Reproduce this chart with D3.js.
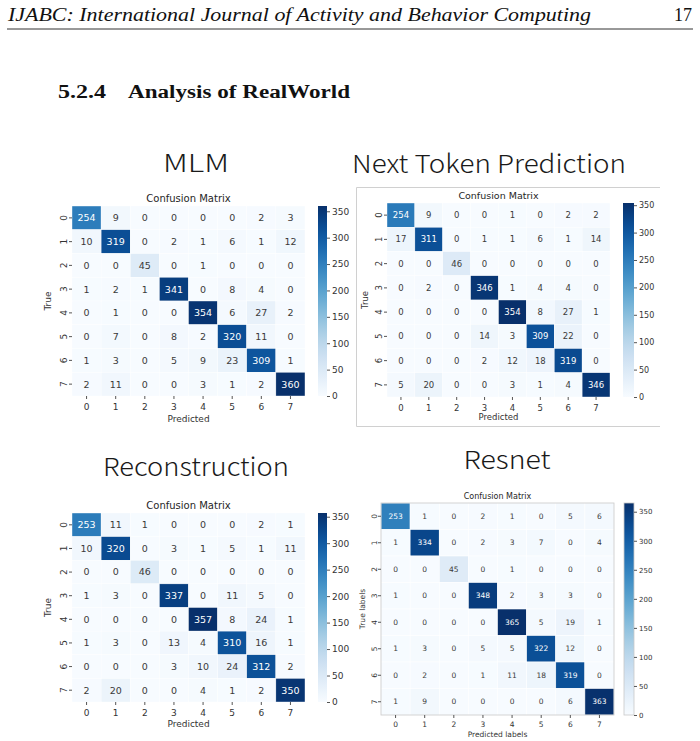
<!DOCTYPE html>
<html>
<head>
<meta charset="utf-8">
<script src="https://cdn.jsdelivr.net/npm/d3@7"></script>
<style>
  body { margin: 0; background: #fff; }
  svg { display: block; }
</style>
</head>
<body>
<svg id="page" width="700" height="741"></svg>
<script>
// class labels shared by every matrix
const classLabels = ["0", "1", "2", "3", "4", "5", "6", "7"];
const colorbarTicks = [0, 50, 100, 150, 200, 250, 300, 350];

// rows = true class, columns = predicted class
const mlmMatrix = [
  [254, 9, 0, 0, 0, 0, 2, 3],
  [10, 319, 0, 2, 1, 6, 1, 12],
  [0, 0, 45, 0, 1, 0, 0, 0],
  [1, 2, 1, 341, 0, 8, 4, 0],
  [0, 1, 0, 0, 354, 6, 27, 2],
  [0, 7, 0, 8, 2, 320, 11, 0],
  [1, 3, 0, 5, 9, 23, 309, 1],
  [2, 11, 0, 0, 3, 1, 2, 360]
];
const ntpMatrix = [
  [254, 9, 0, 0, 1, 0, 2, 2],
  [17, 311, 0, 1, 1, 6, 1, 14],
  [0, 0, 46, 0, 0, 0, 0, 0],
  [0, 2, 0, 346, 1, 4, 4, 0],
  [0, 0, 0, 0, 354, 8, 27, 1],
  [0, 0, 0, 14, 3, 309, 22, 0],
  [0, 0, 0, 2, 12, 18, 319, 0],
  [5, 20, 0, 0, 3, 1, 4, 346]
];
const reconMatrix = [
  [253, 11, 1, 0, 0, 0, 2, 1],
  [10, 320, 0, 3, 1, 5, 1, 11],
  [0, 0, 46, 0, 0, 0, 0, 0],
  [1, 3, 0, 337, 0, 11, 5, 0],
  [0, 0, 0, 0, 357, 8, 24, 1],
  [1, 3, 0, 13, 4, 310, 16, 1],
  [0, 0, 0, 3, 10, 24, 312, 2],
  [2, 20, 0, 0, 4, 1, 2, 350]
];
const resnetMatrix = [
  [253, 1, 0, 2, 1, 0, 5, 6],
  [1, 334, 0, 2, 3, 7, 0, 4],
  [0, 0, 45, 0, 1, 0, 0, 0],
  [1, 0, 0, 348, 2, 3, 3, 0],
  [0, 0, 0, 0, 365, 5, 19, 1],
  [1, 3, 0, 5, 5, 322, 12, 0],
  [0, 2, 0, 1, 11, 18, 319, 0],
  [1, 9, 0, 0, 0, 0, 6, 363]
];

const svg = d3.select("#page");
const mplFont = "'DejaVu Sans', sans-serif";
const serif = "'Liberation Serif', 'DejaVu Serif', serif";

// page header
svg.append("text")
  .attr("x", 8).attr("y", 21)
  .attr("font-family", serif)
  .attr("font-style", "italic")
  .attr("font-size", 18)
  .attr("textLength", 583)
  .attr("lengthAdjust", "spacingAndGlyphs")
  .attr("fill", "#111")
  .text("IJABC: International Journal of Activity and Behavior Computing");
svg.append("text")
  .attr("x", 692).attr("y", 21)
  .attr("text-anchor", "end")
  .attr("font-family", serif)
  .attr("font-size", 18)
  .attr("fill", "#111")
  .text("17");
svg.append("line")
  .attr("x1", 7).attr("x2", 693)
  .attr("y1", 29).attr("y2", 29)
  .attr("stroke", "#333").attr("stroke-width", 1);

// section heading
svg.append("text")
  .attr("x", 58).attr("y", 98)
  .attr("font-family", serif)
  .attr("font-weight", "bold")
  .attr("font-size", 18)
  .attr("textLength", 48)
  .attr("lengthAdjust", "spacingAndGlyphs")
  .attr("fill", "#111")
  .text("5.2.4");
svg.append("text")
  .attr("x", 128).attr("y", 98)
  .attr("font-family", serif)
  .attr("font-weight", "bold")
  .attr("font-size", 18)
  .attr("textLength", 222)
  .attr("lengthAdjust", "spacingAndGlyphs")
  .attr("fill", "#111")
  .text("Analysis of RealWorld");

// big panel titles
const bigTitles = [
  { text: "MLM", x: 196, y: 172, len: 66 },
  { text: "Next Token Prediction", x: 489, y: 173, len: 274 },
  { text: "Reconstruction", x: 196, y: 476, len: 186 },
  { text: "Resnet", x: 507, y: 469, len: 87 }
];
svg.selectAll(".bigTitle")
  .data(bigTitles)
  .enter()
  .append("text")
  .attr("class", "bigTitle")
  .attr("x", d => d.x)
  .attr("y", d => d.y)
  .attr("text-anchor", "middle")
  .attr("font-family", "'Noto Sans CJK JP', 'Noto Sans', sans-serif")
  .attr("font-weight", 300)
  .attr("font-size", 25)
  .attr("textLength", d => d.len)
  .attr("lengthAdjust", "spacingAndGlyphs")
  .attr("fill", "#1a1a1a")
  .text(d => d.text);

// frame round the Next Token Prediction figure
const frame = svg.append("g").attr("stroke", "#d0d0d0").attr("stroke-width", 1).attr("fill", "none");
frame.append("path").attr("d", "M660,187.5H356.5V426.5H660");

function drawMatrix(matrix, opt) {
  const g = svg.append("g");
  const vmax = d3.max(matrix.flat());
  const color = d3.scaleSequential(d3.interpolateBlues).domain([0, vmax]);

  const x = d3.scaleBand().domain(classLabels).range([opt.left, opt.right]);
  const y = d3.scaleBand().domain(classLabels).range([opt.top, opt.bottom]);

  const cells = [];
  matrix.forEach((row, i) => row.forEach((v, j) => cells.push({ r: classLabels[i], c: classLabels[j], v })));

  g.selectAll(".cell")
    .data(cells)
    .enter()
    .append("rect")
    .attr("x", d => x(d.c))
    .attr("y", d => y(d.r))
    .attr("width", x.bandwidth())
    .attr("height", y.bandwidth())
    .attr("fill", d => color(d.v))
    .attr("stroke", "#fff")
    .attr("stroke-width", opt.grid);

  g.selectAll(".annot")
    .data(cells)
    .enter()
    .append("text")
    .attr("x", d => x(d.c) + x.bandwidth() / 2)
    .attr("y", d => y(d.r) + y.bandwidth() / 2)
    .attr("dy", "0.36em")
    .attr("text-anchor", "middle")
    .attr("font-family", mplFont)
    .attr("font-size", opt.annot)
    .attr("fill", d => d.v / vmax > 0.45 ? "#fff" : "#3a3a3a")
    .text(d => d.v);

  if (opt.outline) {
    g.append("rect")
      .attr("x", opt.left).attr("y", opt.top)
      .attr("width", opt.right - opt.left).attr("height", opt.bottom - opt.top)
      .attr("fill", "none").attr("stroke", "#c8c8c8").attr("stroke-width", 0.8);
  }

  // axes
  const xAxis = g.append("g")
    .attr("transform", `translate(0,${opt.bottom})`)
    .call(d3.axisBottom(x).tickSize(3).tickPadding(opt.xPad));
  const yAxis = g.append("g")
    .attr("transform", `translate(${opt.left},0)`)
    .call(d3.axisLeft(y).tickSize(3).tickPadding(3));
  [xAxis, yAxis].forEach(a => {
    a.select(".domain").remove();
    a.selectAll("line").attr("stroke", "#555");
    a.selectAll("text")
      .attr("font-family", mplFont)
      .attr("font-size", opt.tick)
      .attr("fill", "#333");
  });
  yAxis.selectAll(".tick text")
    .attr("transform", "rotate(-90)")
    .attr("x", 0)
    .attr("y", -opt.tick * 0.95)
    .attr("dy", "0.35em")
    .attr("text-anchor", "middle");

  // titles
  const cx = (opt.left + opt.right) / 2;
  g.append("text")
    .attr("x", cx).attr("y", opt.top - opt.titleGap)
    .attr("text-anchor", "middle")
    .attr("font-family", mplFont)
    .attr("font-size", opt.title)
    .attr("fill", "#262626")
    .text("Confusion Matrix");
  g.append("text")
    .attr("x", cx).attr("y", opt.xlabY)
    .attr("text-anchor", "middle")
    .attr("font-family", mplFont)
    .attr("font-size", opt.tick)
    .attr("fill", "#333")
    .text(opt.xlab);
  g.append("text")
    .attr("transform", `translate(${opt.ylabX},${(opt.top + opt.bottom) / 2}) rotate(-90)`)
    .attr("text-anchor", "middle")
    .attr("font-family", mplFont)
    .attr("font-size", opt.tick)
    .attr("fill", "#333")
    .text(opt.ylab);

  // colorbar
  const gradId = "grad" + opt.id;
  const grad = svg.append("defs").append("linearGradient")
    .attr("id", gradId)
    .attr("x1", 0).attr("y1", 1).attr("x2", 0).attr("y2", 0);
  d3.range(0, 1.0001, 0.05).forEach(t => {
    grad.append("stop").attr("offset", t).attr("stop-color", d3.interpolateBlues(t));
  });
  g.append("rect")
    .attr("x", opt.cbLeft).attr("y", opt.top)
    .attr("width", opt.cbWidth).attr("height", opt.bottom - opt.top)
    .attr("fill", `url(#${gradId})`)
    .attr("stroke", opt.outline ? "#c8c8c8" : "none")
    .attr("stroke-width", 0.8);
  const cScale = d3.scaleLinear().domain([0, vmax]).range([opt.bottom, opt.top]);
  const cAxis = g.append("g")
    .attr("transform", `translate(${opt.cbLeft + opt.cbWidth},0)`)
    .call(d3.axisRight(cScale).tickValues(colorbarTicks).tickSize(3).tickPadding(2));
  cAxis.select(".domain").remove();
  cAxis.selectAll("line").attr("stroke", "#555");
  cAxis.selectAll("text")
    .attr("font-family", mplFont)
    .attr("font-size", opt.cbTick)
    .attr("fill", "#333");
}

drawMatrix(mlmMatrix, {
  id: "mlm", left: 72, right: 305, top: 206, bottom: 396,
  cbLeft: 318, cbWidth: 9, grid: 0.4, outline: false,
  annot: 9.5, tick: 9, title: 10, cbTick: 9, titleGap: 4, xPad: 5,
  xlab: "Predicted", ylab: "True", xlabY: 422, ylabX: 51
});
drawMatrix(ntpMatrix, {
  id: "ntp", left: 387, right: 610, top: 203, bottom: 397,
  cbLeft: 623, cbWidth: 11, grid: 0.4, outline: false,
  annot: 8.5, tick: 8.5, title: 9.5, cbTick: 8, titleGap: 4, xPad: 5,
  xlab: "Predicted", ylab: "True", xlabY: 420, ylabX: 368
});
drawMatrix(reconMatrix, {
  id: "recon", left: 72, right: 305, top: 513, bottom: 702,
  cbLeft: 318, cbWidth: 9, grid: 0.4, outline: false,
  annot: 9.5, tick: 9, title: 10, cbTick: 9, titleGap: 4, xPad: 5,
  xlab: "Predicted", ylab: "True", xlabY: 727, ylabX: 51
});
drawMatrix(resnetMatrix, {
  id: "resnet", left: 381, right: 614, top: 503, bottom: 715,
  cbLeft: 624, cbWidth: 10, grid: 0.6, outline: true,
  annot: 7.5, tick: 7.5, title: 8, cbTick: 7, titleGap: 4, xPad: 4,
  xlab: "Predicted labels", ylab: "True labels", xlabY: 737, ylabX: 365
});
</script>
</body>
</html>
